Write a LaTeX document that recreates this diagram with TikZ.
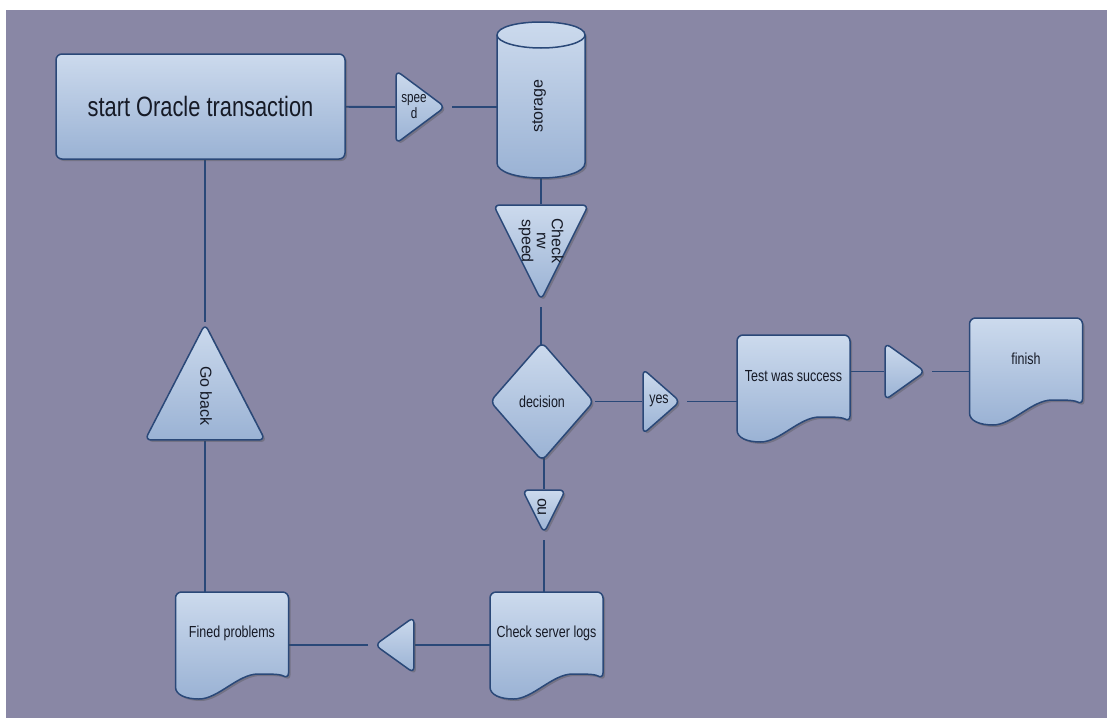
\documentclass[tikz,border=0pt]{standalone}
\usepackage{fontspec}
\setmainfont{Liberation Sans}[FakeStretch=0.78]
\newfontfamily\vsans{Liberation Sans}
\usetikzlibrary{shapes.geometric,shadows,backgrounds}

\definecolor{canvasbg}{RGB}{137,135,165}
\definecolor{boxlight}{RGB}{204,218,237}
\definecolor{boxdark}{RGB}{154,178,212}
\definecolor{edgeblue}{RGB}{42,72,120}
\definecolor{inkdark}{RGB}{22,26,38}

\tikzset{
  boxshade/.style={draw=edgeblue, line width=1.5pt, top color=boxlight, bottom color=boxdark,
    drop shadow={shadow xshift=2pt, shadow yshift=-2pt, opacity=0.35, fill=black!70}},
  link/.style={draw=edgeblue, line width=1.8pt},
  tipgap/.style={shorten <=5pt},
  startbox/.style={boxshade, rectangle, rounded corners=6pt,
    minimum width=289pt, minimum height=105pt, font=\fontsize{28}{32}\selectfont},
  arrowtri/.style={boxshade, isosceles triangle, isosceles triangle stretches,
    rounded corners=6pt, inner sep=0pt},
  decisionbox/.style={boxshade, diamond, rounded corners=6pt,
    minimum width=104pt, minimum height=119pt, inner sep=0pt},
  docnode/.style={rectangle, minimum width=113pt, minimum height=82pt, inner sep=0pt},
  vlabel/.style={font=\vsans\fontsize{16}{15}\selectfont, align=center, inner sep=0pt},
  hlabel/.style={align=center, inner sep=0pt},
}

% document outline round a docnode
\newcommand{\docoutline}[1]{%
  \path[boxshade, shift={(#1.center)}]
    (-56.5,54) [rounded corners=6pt] -- (-56.5,-41) -- (56.5,-41) -- (56.5,46) [sharp corners]
    .. controls (48,41) and (38,41) .. (26,41)
    .. controls (6,41) and (-14,66) .. (-33,66)
    .. controls (-46,66) and (-56.5,62) .. (-56.5,54) -- cycle;}

\begin{document}
\begin{tikzpicture}[x=1pt, y=-1pt, font=\fontsize{16}{18}\selectfont, text=inkdark]

\useasboundingbox (0,0) rectangle (1107,718);

% ═══════════════════════════════════════════════════════
% UPPER ROW
% ═══════════════════════════════════════════════════════

\node[startbox] (start) at (200.5,106.5) {start Oracle transaction};

\node[arrowtri, anchor=apex, minimum height=49pt, minimum width=73pt] (speed) at (447,107) {};
\node[hlabel, font=\fontsize{15}{16}\selectfont] (speedtxt) at (414,107) {spee\\d};

% storage cylinder (outline drawn on the background)
\node[docnode, minimum width=88pt, minimum height=156pt] (storage) at (541,100) {};
\node[vlabel, rotate=90] (storagetxt) at (539,106) {storage};

\node[arrowtri, shape border rotate=-90, anchor=apex, minimum width=95pt, minimum height=95pt]
    (checkrw) at (541,302) {};
\node[vlabel, rotate=-90] (checkrwtxt) at (541,241) {Check\\rw\\speed};

% ═══════════════════════════════════════════════════════
% DECISION AND YES BRANCH
% ═══════════════════════════════════════════════════════

\node[decisionbox] (decision) at (542,401.5) {decision};

\node[arrowtri, anchor=apex, minimum height=37pt, minimum width=65pt] (yes) at (682,401.5) {};
\node[hlabel] (yestxt) at (659,401) {yes};

\node[docnode] (test) at (793.5,376) {Test was success};

\node[arrowtri, anchor=apex, minimum height=40pt, minimum width=57pt] (toend) at (927,371.5) {};

\node[docnode] (finish) at (1026,359) {finish};

% ═══════════════════════════════════════════════════════
% NO BRANCH
% ═══════════════════════════════════════════════════════

\node[arrowtri, shape border rotate=-90, anchor=apex, minimum width=43pt, minimum height=43pt]
    (notri) at (544,535) {};
\node[vlabel, rotate=90] (notxt) at (542,507) {no};

\node[docnode] (server) at (546.5,633) {Check server logs};

\node[arrowtri, shape border rotate=180, anchor=apex, minimum height=39pt, minimum width=56pt]
    (backtri) at (373,645) {};

\node[docnode] (fined) at (232,633) {Fined problems};

\node[arrowtri, shape border rotate=90, anchor=apex, minimum height=116pt, minimum width=120pt]
    (goback) at (205,322) {};
\node[vlabel, rotate=-90] (gobacktxt) at (206,396) {Go back};

% ═══════════════════════════════════════════════════════
% BACKGROUND: canvas, connectors, cylinder, documents
% ═══════════════════════════════════════════════════════

\begin{scope}[on background layer]
  \fill[white] (0,0) rectangle (1107,718);
  \fill[canvasbg] (6,10) rectangle (1107,718);

  % connectors
  \draw[link] (start) -- (speed);
  \draw[link, tipgap] (speed.apex) -- (speed.apex -| storage.center);
  \draw[link] (storage) -- (checkrw);
  \draw[link, tipgap] (checkrw.apex) -- (checkrw.apex |- decision.center);
  \draw[link] (decision) -- (yes);
  \draw[link, tipgap] (yes.apex) -- (yes.apex -| test.center);
  \draw[link] (test.center |- toend) -- (toend);
  \draw[link, tipgap] (toend.apex) -- (toend.apex -| finish.center);
  \draw[link] (decision.center -| notri.apex) -- (notri);
  \draw[link, tipgap] (notri.apex) -- (notri.apex |- server.center);
  \draw[link] (server.center |- backtri) -- (backtri);
  \draw[link, tipgap] (backtri.apex) -- (backtri.apex -| fined.center);
  \draw[link] (goback) -- (goback |- fined.center);
  \draw[link] (goback.apex) -- (goback.apex |- start.center);

  % storage cylinder
  \path[boxshade, shift={(storage.center)}]
    (-44,-65) -- (-44,63) .. controls (-44,72) and (-24,78) .. (0,78)
    .. controls (24,78) and (44,72) .. (44,63) -- (44,-65)
    .. controls (44,-73) and (24,-78) .. (0,-78)
    .. controls (-24,-78) and (-44,-73) .. (-44,-65) -- cycle;
  \draw[draw=edgeblue, line width=1.5pt, shift={(storage.center)}]
    (-44,-65) .. controls (-44,-58) and (-24,-52) .. (0,-52)
    .. controls (24,-52) and (44,-58) .. (44,-65);

  % documents
  \docoutline{test}
  \docoutline{finish}
  \docoutline{server}
  \docoutline{fined}
\end{scope}

\end{tikzpicture}
\end{document}
